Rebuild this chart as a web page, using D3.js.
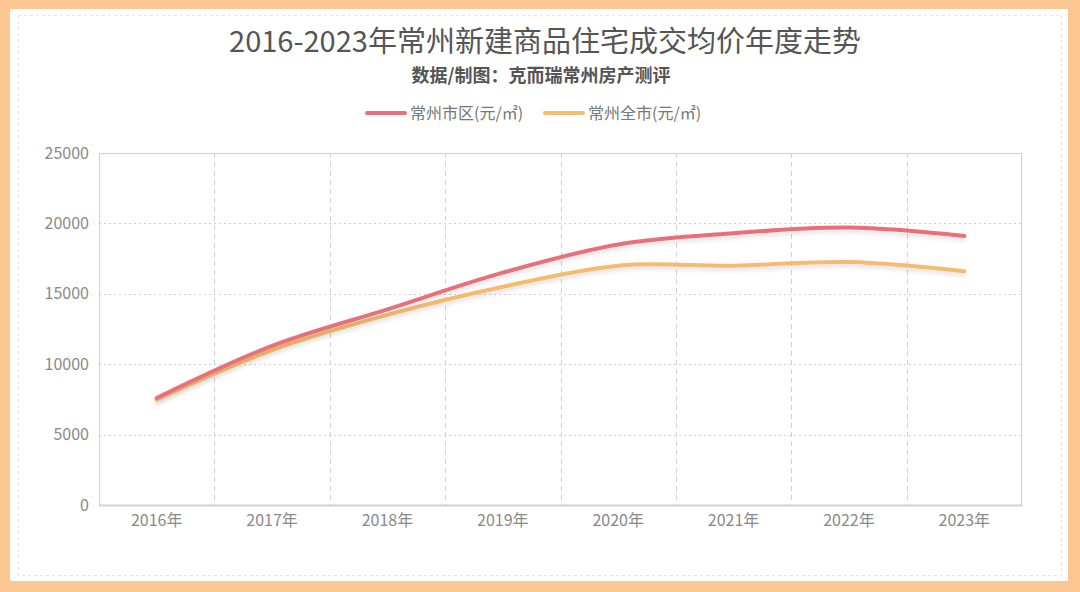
<!DOCTYPE html>
<html><head><meta charset="utf-8">
<script src="https://cdn.jsdelivr.net/npm/d3@7"></script>
<style>html,body{margin:0;padding:0;background:#fff;}svg{display:block;}</style>
</head><body>
<svg id="c" width="1080" height="592"></svg>
<script>
const years = ["2016年","2017年","2018年","2019年","2020年","2021年","2022年","2023年"];
const seriesNames = ["常州市区(元/㎡)","常州全市(元/㎡)"];
const cityDistrict = [7600, 11300, 13900, 16500, 18500, 19300, 19700, 19100];
const cityWhole = [7500, 11000, 13500, 15500, 17000, 17000, 17250, 16600];
const yTicks = [0, 5000, 10000, 15000, 20000, 25000];
const colors = ["#e8707a", "#f5bb6e"];

const svg = d3.select("#c");
const W = 1080, H = 592;
const font = "'Noto Sans CJK SC','Noto Sans',sans-serif";

// frame
svg.append("rect").attr("x",0).attr("y",0).attr("width",W).attr("height",H).attr("fill","#fbc692");
svg.append("rect").attr("x",10).attr("y",9).attr("width",W-22).attr("height",H-20).attr("fill","#fff");
svg.append("rect").attr("x",18.5).attr("y",15.5).attr("width",W-37).attr("height",H-32)
  .attr("fill","none").attr("stroke","#d8d8d8").attr("stroke-dasharray","2,4");

const m = {l:99, r:1022, t:153, b:505};
const x = d3.scaleBand().domain(years).range([m.l, m.r]);
const y = d3.scaleLinear().domain([0,25000]).range([m.b, m.t]);

// horizontal grid
svg.append("g").selectAll("line").data(yTicks.filter(d=>d>0)).join("line")
  .attr("x1",m.l).attr("x2",m.r).attr("y1",d=>Math.round(y(d))+0.5).attr("y2",d=>Math.round(y(d))+0.5)
  .attr("stroke","#d0d0d0").attr("stroke-dasharray","2,3");
// vertical grid
svg.append("g").selectAll("line").data(years.slice(1)).join("line")
  .attr("x1",d=>Math.round(x(d))+0.5).attr("x2",d=>Math.round(x(d))+0.5).attr("y1",m.t).attr("y2",m.b)
  .attr("stroke","#d0d0d0").attr("stroke-dasharray","5,4");
// plot border
svg.append("rect").attr("x",m.l+0.5).attr("y",m.t+0.5).attr("width",m.r-m.l-1).attr("height",m.b-m.t)
  .attr("fill","none").attr("stroke","#d4d4d4").attr("stroke-width",1.2);

// y axis
const ya = svg.append("g").attr("transform",`translate(${m.l},0)`)
  .call(d3.axisLeft(y).tickValues(yTicks).tickSize(0).tickPadding(10).tickFormat(d3.format("d")));
ya.select(".domain").remove();
ya.selectAll("text").attr("font-family",font).attr("font-size",16).attr("fill","#8a8a8a");

// x axis
const xa = svg.append("g").attr("transform",`translate(0,${m.b})`)
  .call(d3.axisBottom(x).tickSize(0).tickPadding(10));
xa.select(".domain").attr("stroke","#d4d4d4").attr("stroke-width",2);
xa.selectAll("text").attr("font-family",font).attr("font-size",16).attr("fill","#8a8a8a");

// lines
const defs = svg.append("defs");
const f = defs.append("filter").attr("id","sh").attr("x","-10%").attr("y","-50%").attr("width","120%").attr("height","200%");
f.append("feDropShadow").attr("dx",0).attr("dy",3).attr("stdDeviation",2).attr("flood-color","#000").attr("flood-opacity",0.12);

const line = d3.line().x((d,i)=>x(years[i])+x.bandwidth()/2).y(d=>y(d)).curve(d3.curveCatmullRom.alpha(0.5));
[cityWhole, cityDistrict].forEach((s,k)=>{
  const c = k===0?colors[1]:colors[0];
  svg.append("path").datum(s).attr("d",line).attr("fill","none").attr("stroke",c)
    .attr("stroke-width",4).attr("stroke-linecap","round").attr("filter","url(#sh)");
});

// title
svg.append("text").attr("x",545).attr("y",52).attr("text-anchor","middle")
  .attr("font-family",font).attr("font-size",29).attr("fill","#555").attr("font-weight",400)
  .text("2016-2023年常州新建商品住宅成交均价年度走势");
svg.append("text").attr("x",541).attr("y",82).attr("text-anchor","middle")
  .attr("font-family",font).attr("font-size",18).attr("fill","#555").attr("font-weight",700)
  .text("数据/制图：克而瑞常州房产测评");

// legend
const lg = [{x:367, c:colors[0], t:seriesNames[0]},{x:545, c:colors[1], t:seriesNames[1]}];
lg.forEach(o=>{
  svg.append("line").attr("x1",o.x).attr("x2",o.x+38).attr("y1",113).attr("y2",113)
    .attr("stroke",o.c).attr("stroke-width",4).attr("stroke-linecap","round");
  svg.append("text").attr("x",o.x+43).attr("y",119).attr("font-family",font).attr("font-size",16)
    .attr("fill","#777").text(o.t);
});
</script>
</body></html>
